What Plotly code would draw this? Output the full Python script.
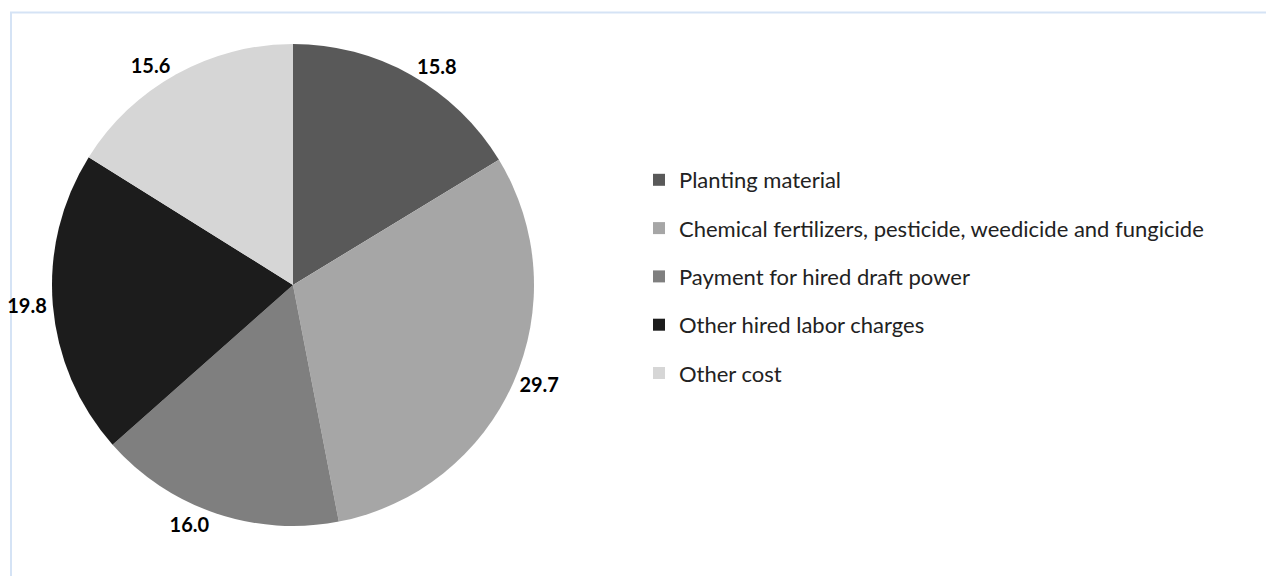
import plotly.graph_objects as go

categories = [
    "Planting material",
    "Chemical fertilizers, pesticide, weedicide and fungicide",
    "Payment for hired draft power",
    "Other hired labor charges",
    "Other cost",
]
values = [15.8, 29.7, 16.0, 19.8, 15.6]
colors = ["#595959", "#a6a6a6", "#7f7f7f", "#1c1c1c", "#d6d6d6"]

W, H = 1274, 576
OFF = 8  # page body margin
FONT = "Lato, Noto Sans, sans-serif"

fig = go.Figure()
fig.add_trace(go.Pie(
    labels=categories,
    values=values,
    marker=dict(colors=colors, line=dict(width=0)),
    sort=False,
    direction="clockwise",
    rotation=0,
    textposition="outside",
    automargin=False,
    texttemplate="<b>%{value:.1f}</b>",
    textfont=dict(family=FONT, size=20, color="black"),
    showlegend=False,
    hoverinfo="label+value",
    domain=dict(x=[(52 - OFF) / W, (534 - OFF) / W],
                y=[1 - (526 - OFF) / H, 1 - (44 - OFF) / H]),
))

for i, (c, col) in enumerate(zip(categories, colors)):
    fig.add_trace(go.Scatter(
        x=[None], y=[None], mode="markers", name=c,
        marker=dict(symbol="square", size=12, color=col),
        legendgroup=f"g{i}", showlegend=True,
    ))

fig.update_layout(
    width=W, height=H,
    margin=dict(l=0, r=0, t=0, b=0),
    paper_bgcolor="white", plot_bgcolor="white",
    xaxis=dict(visible=False), yaxis=dict(visible=False),
    legend=dict(
        x=(639 - OFF) / W, y=1 - (159 - OFF) / H, xanchor="left", yanchor="top",
        font=dict(family=FONT, size=22, color="#222222"),
        tracegroupgap=16.7, itemwidth=30, bgcolor="rgba(0,0,0,0)",
    ),
    shapes=[dict(type="rect", xref="paper", yref="paper", layer="below",
                 x0=(11 - OFF) / W, x1=1.02, y0=-0.02, y1=1 - (12.5 - OFF) / H,
                 line=dict(color="#d5e3f5", width=2))],
)

fig.write_html("out.html")
